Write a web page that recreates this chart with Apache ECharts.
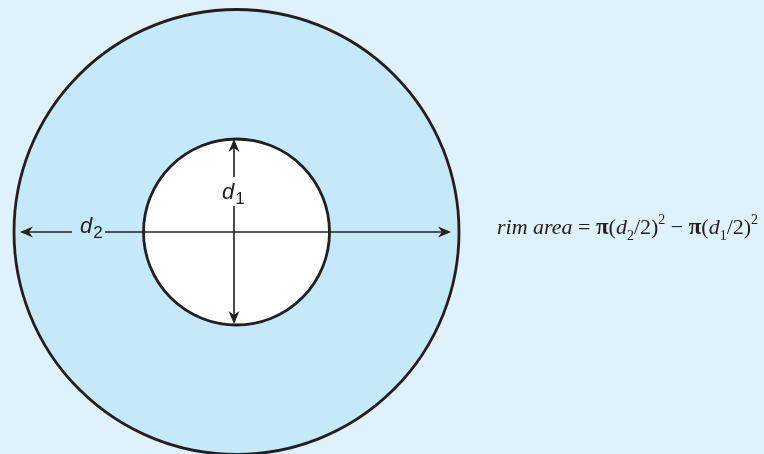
<!DOCTYPE html>
<html><head><meta charset="utf-8">
<script src="https://cdn.jsdelivr.net/npm/echarts@6/dist/echarts.min.js"></script>
<style>html,body{margin:0;padding:0;background:#dff2fc;overflow:hidden}#c{width:764px;height:454px}</style>
</head><body><div id="c"></div>
<script>
// Diagram data (in pixel-like units of the hidden value axes)
const circleNames = ['outer (d2)', 'inner (d1)'];
const circleDiameters = [445, 186];
const circleFills = ['#c6e9f9', '#ffffff'];
const circleCenter = [236.5, 232];
// dimension arrows: [fromX, fromY, toX(tip), toY(tip)]
const arrowSegments = [
  [72, 232, 20, 232],
  [105, 232, 451, 232],
  [234, 177, 234, 139],
  [234, 206, 234, 324]
];
const dimLabelText = ['d', 'd'];
const dimLabelSub = ['2', '1'];
const dimLabelPos = [[80, 242], [222, 208]];

const chart = echarts.init(document.getElementById('c'), null, {renderer: 'canvas'});
const stroke = '#231f20';

chart.setOption({
  backgroundColor: '#dff2fc',
  animation: false,
  grid: {left: 0, right: 0, top: 0, bottom: 0},
  xAxis: {type: 'value', min: 0, max: 764, show: false},
  yAxis: {type: 'value', min: 0, max: 454, inverse: true, show: false},
  series: [
    {
      type: 'custom',
      name: 'circles',
      coordinateSystem: 'cartesian2d',
      data: circleDiameters.map((d, i) => [circleCenter[0], circleCenter[1], d]),
      renderItem(params, api) {
        const c = api.coord([api.value(0), api.value(1)]);
        const r = api.size([api.value(2) / 2, 0])[0];
        return {type: 'circle', shape: {cx: c[0], cy: c[1], r: r},
          style: {fill: circleFills[params.dataIndex], stroke: stroke, lineWidth: 2.8}};
      }
    },
    {
      type: 'custom',
      name: 'arrows',
      coordinateSystem: 'cartesian2d',
      data: arrowSegments,
      renderItem(params, api) {
        const p1 = api.coord([api.value(0), api.value(1)]);
        const p2 = api.coord([api.value(2), api.value(3)]);
        const a = Math.atan2(p2[1] - p1[1], p2[0] - p1[0]);
        const cs = Math.cos(a), sn = Math.sin(a);
        const L = 13, W = 5.5, N = 4;
        const back = [p2[0] - L * cs, p2[1] - L * sn];
        const left = [back[0] - W * sn, back[1] + W * cs];
        const right = [back[0] + W * sn, back[1] - W * cs];
        const notch = [p2[0] - (L - N) * cs, p2[1] - (L - N) * sn];
        return {type: 'group', children: [
          {type: 'line', shape: {x1: p1[0], y1: p1[1], x2: notch[0], y2: notch[1]},
            style: {stroke: stroke, lineWidth: 1.6}},
          {type: 'polygon', shape: {points: [p2, left, notch, right]},
            style: {fill: stroke}}
        ]};
      }
    },
    {
      type: 'custom',
      name: 'labels',
      coordinateSystem: 'cartesian2d',
      data: dimLabelPos,
      renderItem(params, api) {
        const p = api.coord([api.value(0), api.value(1)]);
        const i = params.dataIndex;
        return {type: 'text', x: p[0], y: p[1], style: {
          text: '{d|' + dimLabelText[i] + '}{s|' + dimLabelSub[i] + '}',
          verticalAlign: 'bottom', align: 'left',
          rich: {
            d: {fontFamily: 'Liberation Sans', fontStyle: 'italic', fontSize: 22, fill: stroke, lineHeight: 26, verticalAlign: 'top'},
            s: {fontFamily: 'Liberation Sans', fontSize: 17, fill: stroke, lineHeight: 26, verticalAlign: 'bottom', padding: [0, 0, 0, 1]}
          }
        }};
      }
    }
  ],
  graphic: [{
    type: 'text',
    left: 497,
    top: 213,
    style: {
      text: '{it|rim area} {n|=} {pi|π}{n|(}{it|d}{sub|2}{n|/2)}{sup|2} {n|−} {pi|π}{n|(}{it|d}{sub|1}{n|/2)}{sup|2}',
      fontFamily: 'Liberation Serif', fontSize: 22, fill: stroke,
      rich: {
        it: {fontFamily: 'Liberation Serif', fontStyle: 'italic', fontSize: 22, fill: stroke, lineHeight: 30, verticalAlign: 'middle'},
        n: {fontFamily: 'Liberation Serif', fontSize: 22, fill: stroke, lineHeight: 30, verticalAlign: 'middle'},
        pi: {fontFamily: 'Liberation Serif', fontWeight: 'bold', fontSize: 23, fill: stroke, lineHeight: 30, verticalAlign: 'middle'},
        sub: {fontFamily: 'Liberation Serif', fontSize: 14, fill: stroke, lineHeight: 24, verticalAlign: 'bottom'},
        sup: {fontFamily: 'Liberation Serif', fontSize: 14, fill: stroke, lineHeight: 26, verticalAlign: 'top'}
      }
    }
  }]
});
</script></body></html>
